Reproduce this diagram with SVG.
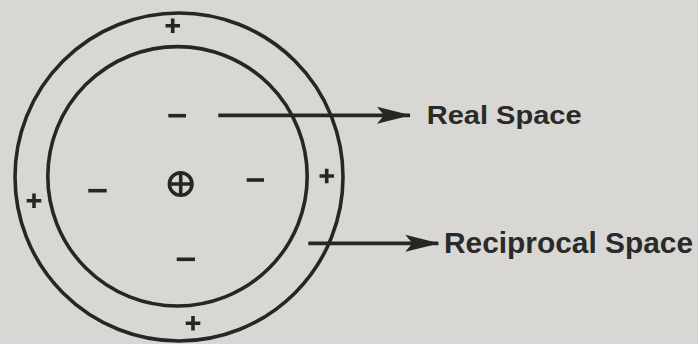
<svg xmlns="http://www.w3.org/2000/svg" width="698" height="344" viewBox="0 0 698 344">
  <style>
    .ring { fill: none; stroke: #262624; stroke-width: 3.6; }
    .sym { stroke: #262624; stroke-width: 3.6; stroke-linecap: butt; fill: none; }
    .conn { stroke: #262624; stroke-width: 3.8; fill: none; }
    .label { font-family: "Liberation Sans", Arial, sans-serif; font-weight: bold; fill: #2a2a28; }
  </style>
  <defs>
    <marker id="arrow" viewBox="0 0 34 20" refX="33" refY="10" markerWidth="34" markerHeight="20" markerUnits="userSpaceOnUse" orient="auto">
      <path d="M0,1.5 L34,10 L0,18.5 L7,10 Z" fill="#262624"/>
    </marker>
  </defs>
  <rect x="0" y="0" width="698" height="344" fill="#d8d7d4"/>

  <g id="outer-ring">
    <circle class="ring" cx="179" cy="177" r="164"/>
  </g>
  <g id="inner-ring">
    <circle class="ring" cx="177.5" cy="176.3" r="129.7"/>
  </g>

  <g id="charges">
    <path class="sym" d="M165.5,25.7 H180 M172.7,18.5 V33"/>
    <path class="sym" d="M26.7,200.7 H41.3 M34,193.4 V208"/>
    <path class="sym" d="M319.5,176 H334 M326.7,168.8 V183.3"/>
    <path class="sym" d="M185.7,323.3 H200.3 M193,316 V330.6"/>
    <path class="sym" d="M168.3,115.7 H186"/>
    <path class="sym" d="M88.3,190.7 H106.7"/>
    <path class="sym" d="M246.7,180 H264"/>
    <path class="sym" d="M176.7,259.3 H195"/>
    <g id="central-charge">
      <circle class="sym" cx="180.7" cy="184" r="11.3"/>
      <path class="sym" d="M169.4,184 H192 M180.7,172.7 V195.3"/>
    </g>
  </g>

  <g id="connectors">
    <line class="conn" x1="218.3" y1="115.3" x2="410" y2="115.3" marker-end="url(#arrow)"/>
    <line class="conn" x1="308.3" y1="243.3" x2="438.3" y2="243.3" marker-end="url(#arrow)"/>
  </g>

  <g id="real-space">
    <text class="label" x="426.7" y="124.3" font-size="26.5" textLength="155" lengthAdjust="spacingAndGlyphs">Real Space</text>
  </g>
  <g id="reciprocal-space">
    <text class="label" x="444" y="253.3" font-size="29" textLength="249" lengthAdjust="spacingAndGlyphs">Reciprocal Space</text>
  </g>
</svg>
